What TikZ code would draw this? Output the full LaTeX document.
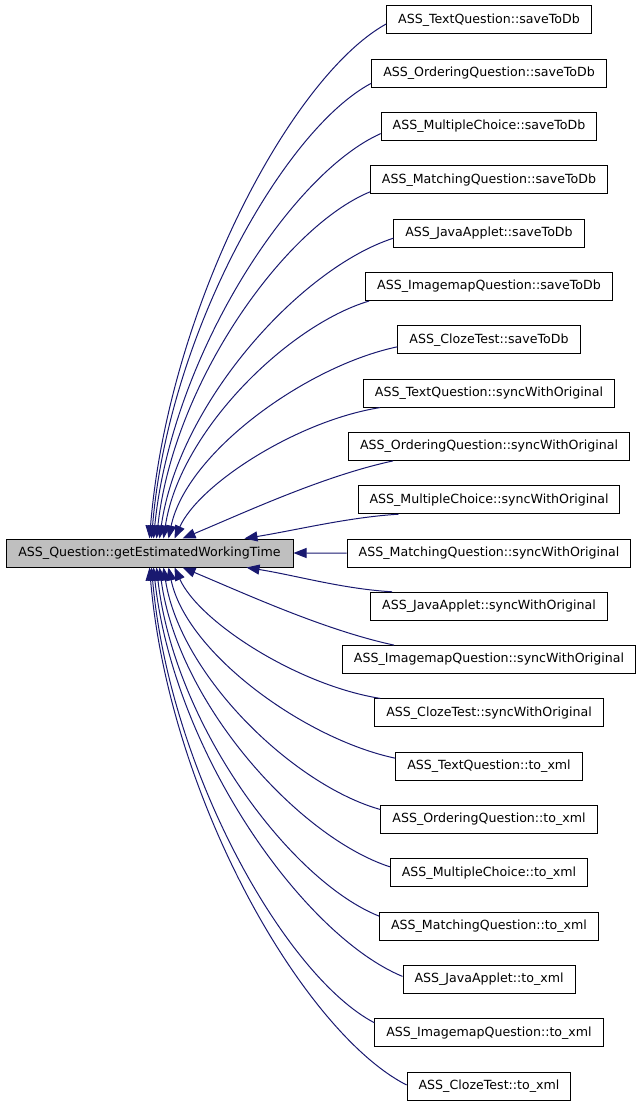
\documentclass[tikz,border=0pt]{standalone}
\usepackage{fontspec}
\setmainfont{DejaVu Sans}
\usetikzlibrary{arrows.meta,calc}
\definecolor{edgeblue}{HTML}{191970}
\definecolor{boxgray}{HTML}{BFBFBF}
\begin{document}
\begin{tikzpicture}[x=1pt,y=-1pt,
  every node/.style={font=\fontsize{12.6}{14}\selectfont},
  childbox/.style={draw=black,line width=1pt,fill=white,minimum height=28pt,inner xsep=11.5pt,inner ysep=0pt},
  mainbox/.style={draw=black,line width=1pt,fill=boxgray,minimum height=28pt,minimum width=287pt,inner ysep=0pt},
  edge/.style={draw=edgeblue,line width=1pt,-{Triangle[length=13pt,width=10pt]}}]
\useasboundingbox (0,0) rectangle (643,1107);
\node[mainbox] (m) at (149.5,553) {ASS\_Question::getEstimatedWorkingTime};
\foreach \t [count=\i from 0] in {
  ASS\_TextQuestion::saveToDb,
  ASS\_OrderingQuestion::saveToDb,
  ASS\_MultipleChoice::saveToDb,
  ASS\_MatchingQuestion::saveToDb,
  ASS\_JavaApplet::saveToDb,
  ASS\_ImagemapQuestion::saveToDb,
  ASS\_ClozeTest::saveToDb,
  ASS\_TextQuestion::syncWithOriginal,
  ASS\_OrderingQuestion::syncWithOriginal,
  ASS\_MultipleChoice::syncWithOriginal,
  ASS\_MatchingQuestion::syncWithOriginal,
  ASS\_JavaApplet::syncWithOriginal,
  ASS\_ImagemapQuestion::syncWithOriginal,
  ASS\_ClozeTest::syncWithOriginal,
  ASS\_TextQuestion::to\_xml,
  ASS\_OrderingQuestion::to\_xml,
  ASS\_MultipleChoice::to\_xml,
  ASS\_MatchingQuestion::to\_xml,
  ASS\_JavaApplet::to\_xml,
  ASS\_ImagemapQuestion::to\_xml,
  ASS\_ClozeTest::to\_xml}
  \node[childbox] (c\i) at (489,{20+53.3*\i}) {\t};
% upper edges
\draw[edge] ($(c0.west)+(0,4)$) .. controls +(-94,52) and +(19,-232) .. ($(m.north west)+(144,0)$);
\draw[edge] ($(c1.west)+(0,10)$) .. controls +(-87,46) and +(17,-205) .. ($(m.north west)+(146,0)$);
\draw[edge] ($(c2.west)+(0,7)$) .. controls +(-90,40) and +(18,-182) .. ($(m.north west)+(148,0)$);
\draw[edge] ($(c3.west)+(0,12)$) .. controls +(-85,35) and +(17,-156) .. ($(m.north west)+(151,0)$);
\draw[edge] ($(c4.west)+(0,5)$) .. controls +(-93,30) and +(19,-135) .. ($(m.north west)+(154,0)$);
\draw[edge] ($(c5.south west)+(4,0)$) .. controls +(-81,24) and +(16,-107) .. ($(m.north west)+(158,0)$);
\draw[edge] ($(c6.west)+(0,7)$) .. controls +(-91,19) and +(18,-86) .. ($(m.north west)+(163,0)$);
\draw[edge] ($(c7.south west)+(17,0)$) .. controls +(-82,13) and +(25,-55) .. ($(m.north west)+(169,0)$);
\draw[edge] ($(c8.south west)+(45,0)$) .. controls +(-70,15) and +(60,-25) .. ($(m.north west)+(177,0)$);
\draw[edge] ($(c9.south west)+(41,0)$) .. controls +(-50,3) and +(50,-8) .. ($(m.north west)+(239,0)$);
% middle edge
\draw[edge] (c10.west) -- (m.east);
% lower edges
\draw[edge] ($(c11.north west)+(22,0)$) .. controls +(-50,-3) and +(50,8) .. ($(m.south west)+(241,0)$);
\draw[edge] ($(c12.north west)+(52,0)$) .. controls +(-70,-15) and +(60,25) .. ($(m.south west)+(177,0)$);
\draw[edge] ($(c13.north west)+(6,0)$) .. controls +(-82,-13) and +(25,55) .. ($(m.south west)+(169,0)$);
\draw[edge] ($(c14.west)+(0,-8)$) .. controls +(-90,-19) and +(18,86) .. ($(m.south west)+(163,0)$);
\draw[edge] ($(c15.west)+(0,-10)$) .. controls +(-86,-24) and +(17,109) .. ($(m.south west)+(158,0)$);
\draw[edge] ($(c16.west)+(0,-6)$) .. controls +(-92,-30) and +(18,135) .. ($(m.south west)+(154,0)$);
\draw[edge] ($(c17.west)+(0,-10)$) .. controls +(-88,-35) and +(18,158) .. ($(m.south west)+(151,0)$);
\draw[edge] ($(c18.west)+(0,-3)$) .. controls +(-99,-41) and +(20,185) .. ($(m.south west)+(148,0)$);
\draw[edge] ($(c19.west)+(0,-10)$) .. controls +(-88,-46) and +(18,205) .. ($(m.south west)+(146,0)$);
\draw[edge] ($(c20.west)+(0,-1)$) .. controls +(-102,-52) and +(20,233) .. ($(m.south west)+(144,0)$);
\end{tikzpicture}
\end{document}
